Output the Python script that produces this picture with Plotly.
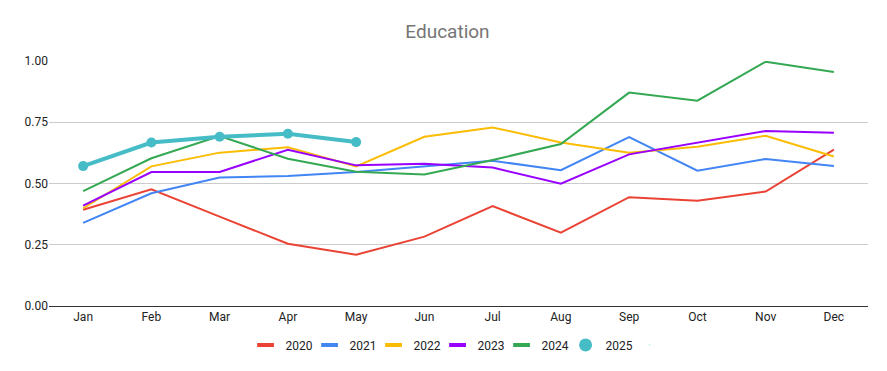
import plotly.graph_objects as go

months = ["Jan", "Feb", "Mar", "Apr", "May", "Jun", "Jul", "Aug", "Sep", "Oct", "Nov", "Dec"]
y2020 = [0.393, 0.476, 0.365, 0.254, 0.209, 0.283, 0.408, 0.299, 0.444, 0.430, 0.467, 0.638]
y2021 = [0.339, 0.460, 0.524, 0.531, 0.547, 0.571, 0.593, 0.554, 0.689, 0.552, 0.600, 0.571]
y2022 = [0.399, 0.570, 0.626, 0.648, 0.570, 0.691, 0.729, 0.667, 0.626, 0.650, 0.695, 0.610]
y2023 = [0.410, 0.547, 0.547, 0.638, 0.574, 0.581, 0.565, 0.499, 0.619, 0.668, 0.714, 0.707]
y2024 = [0.469, 0.603, 0.694, 0.601, 0.548, 0.537, 0.596, 0.661, 0.871, 0.838, 0.997, 0.955]
y2025 = [0.571, 0.667, 0.691, 0.703, 0.669]
yticks = [0.0, 0.25, 0.5, 0.75, 1.0]

series = [
    ("2020", y2020, "#EA4335"),
    ("2021", y2021, "#4285F4"),
    ("2022", y2022, "#FBBC04"),
    ("2023", y2023, "#9900FF"),
    ("2024", y2024, "#34A853"),
]
teal = "#46BDC6"

fig = go.Figure()
for name, ys, col in series:
    fig.add_trace(go.Scatter(x=months, y=ys, name=name, mode="lines",
                             line=dict(color=col, width=2), showlegend=False))
fig.add_trace(go.Scatter(x=months[:len(y2025)], y=y2025, name="2025", mode="lines+markers",
                         line=dict(color=teal, width=4), marker=dict(size=10, color=teal),
                         showlegend=False))

# legend-only entries
for name, ys, col in series:
    fig.add_trace(go.Scatter(x=[None], y=[None], name=name, mode="markers",
                             marker=dict(symbol="line-ew", size=12, color=col,
                                         line=dict(color=col, width=4))))
fig.add_trace(go.Scatter(x=[None], y=[None], name="2025", mode="markers",
                         marker=dict(size=13, color=teal)))
# spacer so the last legend label is not clipped
fig.add_trace(go.Scatter(x=[None], y=[None], name=" ", mode="markers",
                         marker=dict(size=1, opacity=0), hoverinfo="skip"))

fig.update_layout(
    width=879, height=363,
    margin=dict(l=41, r=19, t=53, b=65),
    paper_bgcolor="white", plot_bgcolor="white",
    font=dict(family="Roboto, Arial, sans-serif", size=12, color="#222"),
    title=dict(text="Education", x=0.5, xanchor="center", y=1 - 23 / 363, yanchor="middle",
               font=dict(size=19, color="#757575")),
    legend=dict(orientation="h", x=0.240, xanchor="left", y=-0.159, yanchor="middle",
                font=dict(size=12, color="#222"), entrywidth=19, entrywidthmode="pixels",
                tracegroupgap=0),
    showlegend=True,
)
fig.update_xaxes(categoryorder="array", categoryarray=months, showgrid=False,
                 showline=True, linecolor="#333", linewidth=1, ticks="",
                 range=[-0.5, 11.5], tickfont=dict(size=12, color="#222"))
fig.update_yaxes(range=[0, 1.0], tickvals=yticks, tickformat=".2f", showgrid=True,
                 gridcolor="#cccccc", gridwidth=1, zeroline=True, zerolinecolor="#333",
                 ticks="", tickfont=dict(size=12, color="#222"))

fig.write_html("out.html")
